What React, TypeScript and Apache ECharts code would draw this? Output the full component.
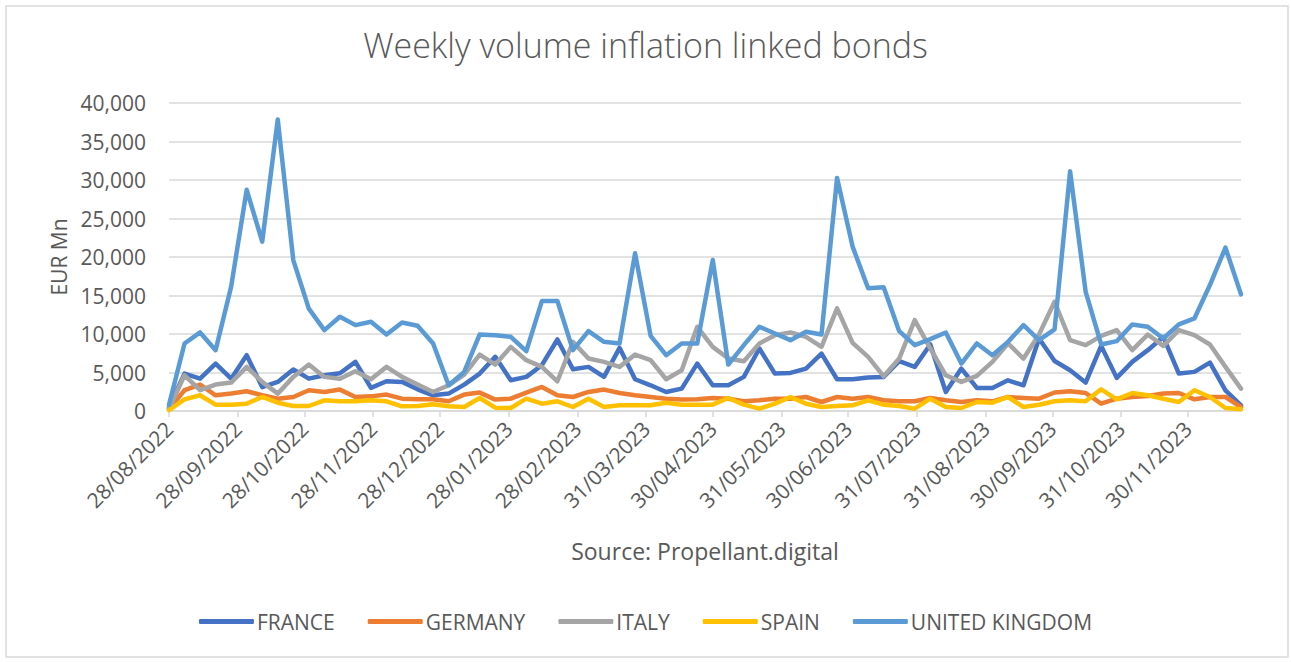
import React, { useEffect, useRef } from "react";
import * as echarts from "echarts";

const START_DATE = "2022-08-28";
const WEEK_COUNT = 70;

const tickLabels = [
  "28/08/2022", "28/09/2022", "28/10/2022", "28/11/2022", "28/12/2022",
  "28/01/2023", "28/02/2023", "31/03/2023", "30/04/2023", "31/05/2023",
  "30/06/2023", "31/07/2023", "31/08/2023", "30/09/2023", "31/10/2023",
  "30/11/2023",
];

const seriesNames = ["FRANCE", "GERMANY", "ITALY", "SPAIN", "UNITED KINGDOM"];
const seriesColors = ["#4472C4", "#ED7D31", "#A5A5A5", "#FFC000", "#5B9BD5"];

const france = [
  500, 4860, 4200, 6160, 4200, 7250, 3100, 3780, 5400, 4200,
  4640, 4900, 6380, 3000, 3860, 3780, 2820, 2040, 2260, 3430,
  4860, 7030, 3990, 4430, 5950, 9290, 5430, 5730, 4430, 8200,
  4120, 3340, 2470, 2910, 6160, 3340, 3340, 4430, 8120, 4860,
  4950, 5510, 7460, 4120, 4120, 4340, 4430, 6470, 5730, 8640,
  2470, 5510, 3000, 3000, 3990, 3340, 9420, 6500, 5290, 3690,
  8460, 4300, 6380, 7900, 9630, 4860, 5080, 6290, 2690, 740,
];
const germany = [
  300, 2700, 3430, 2040, 2260, 2560, 2040, 1600, 1820, 2700,
  2470, 2780, 1820, 1900, 2130, 1600, 1520, 1520, 1260, 2130,
  2390, 1480, 1600, 2390, 3120, 2040, 1820, 2470, 2780, 2340,
  2040, 1820, 1600, 1480, 1520, 1690, 1600, 1260, 1390, 1600,
  1600, 1820, 1170, 1820, 1600, 1820, 1390, 1260, 1260, 1690,
  1390, 1170, 1390, 1260, 1820, 1690, 1600, 2400, 2560, 2340,
  950, 1600, 1820, 1950, 2260, 2340, 1520, 1820, 1820, 520,
];
const italy = [
  300, 4640, 2700, 3430, 3690, 5730, 3780, 2260, 4430, 6030,
  4430, 4200, 5160, 4120, 5730, 4430, 3430, 2470, 3340, 4730,
  7330, 6030, 8330, 6600, 5730, 3860, 8980, 6810, 6380, 5730,
  7330, 6600, 4120, 5290, 10940, 8330, 6810, 6470, 8770, 9850,
  10200, 9630, 8330, 13320, 8850, 7030, 4500, 6810, 11800, 8120,
  4640, 3780, 4560, 6380, 8770, 6810, 9940, 14190, 9200, 8550,
  9760, 10500, 7900, 9940, 8460, 10500, 9850, 8640, 5730, 2910,
];
const spain = [
  100, 1500, 2040, 820, 820, 950, 1820, 1080, 650, 650,
  1390, 1260, 1260, 1390, 1260, 610, 650, 870, 610, 520,
  1690, 430, 390, 1600, 950, 1260, 520, 1600, 520, 740,
  740, 740, 1080, 820, 820, 820, 1690, 820, 300, 950,
  1820, 950, 520, 650, 740, 1390, 820, 650, 300, 1600,
  520, 390, 1170, 1080, 1820, 520, 820, 1260, 1390, 1260,
  2820, 1520, 2340, 2040, 1600, 1170, 2690, 1820, 390, 220,
];
const unitedKingdom = [
  800, 8770, 10200, 7900, 16150, 28730, 22000, 37850, 19600, 13300,
  10500, 12240, 11150, 11590, 9940, 11500, 11070, 8770, 3340, 5080,
  9940, 9850, 9630, 7770, 14280, 14280, 7900, 10370, 8980, 8770,
  20480, 9760, 7250, 8770, 8770, 19600, 6030, 8550, 10940, 10070,
  9200, 10290, 9940, 30250, 21350, 15930, 16060, 10370, 8550, 9330,
  10200, 6160, 8770, 7250, 8980, 11150, 9200, 10600, 31120, 15490,
  8640, 9070, 11240, 10940, 9420, 11240, 12020, 16360, 21220, 15150,
];

const seriesValues = [france, germany, italy, spain, unitedKingdom];

const DAY_MS = 86400000;
const startMs = Date.parse(START_DATE);
const weekDays = Array.from({ length: WEEK_COUNT }, (_, i) => i * 7);
const parseLabel = (s: string) => {
  const [d, m, y] = s.split("/").map(Number);
  return (Date.UTC(y, m - 1, d) - startMs) / DAY_MS;
};
const tickDays = tickLabels.map(parseLabel);
const labelByDay: Record<number, string> = {};
tickDays.forEach((d, i) => (labelByDay[d] = tickLabels[i]));

const FONT = "'Open Sans', 'Noto Sans', sans-serif";
const TEXT_COLOR = "#595959";

export default function App() {
  const ref = useRef<HTMLDivElement>(null);
  useEffect(() => {
    if (!ref.current) return;
    const chart = echarts.init(ref.current, undefined, { renderer: "svg" });
    chart.setOption({
      animation: false,
      backgroundColor: "#ffffff",
      title: {
        text: "Weekly volume inflation linked bonds",
        left: "center",
        top: 23,
        textStyle: { fontFamily: FONT, fontSize: 34, fontWeight: 300, color: TEXT_COLOR },
      },
      graphic: [
        {
          type: "rect",
          shape: { x: 6, y: 6, width: 1282, height: 651 },
          style: { fill: "none", stroke: "#d9d9d9", lineWidth: 1.5 },
          silent: true,
        },
      ],
      legend: {
        bottom: 25,
        left: "center",
        icon: "roundRect",
        itemWidth: 55,
        itemHeight: 5,
        itemGap: 33,
        textStyle: { fontFamily: FONT, fontSize: 21, color: TEXT_COLOR, padding: [0, 0, 0, -2] },
        data: seriesNames,
      },
      grid: { left: 169, right: 50, top: 103, bottom: 251, containLabel: false },
      xAxis: {
        type: "value",
        min: 0,
        max: weekDays[weekDays.length - 1],
        name: "Source: Propellant.digital",
        nameLocation: "middle",
        nameGap: 128,
        nameTextStyle: { fontFamily: FONT, fontSize: 23, color: TEXT_COLOR },
        axisLine: { show: true, lineStyle: { color: "#d9d9d9", width: 1.5 } },
        axisTick: { show: true, customValues: tickDays, length: 6, lineStyle: { color: "#d9d9d9", width: 1.5 } },
        axisLabel: {
          customValues: tickDays,
          rotate: 45,
          margin: 14,
          fontFamily: FONT,
          fontSize: 21,
          color: TEXT_COLOR,
          formatter: (v: number) => labelByDay[v] ?? "",
        },
        splitLine: { show: false },
      },
      yAxis: {
        type: "value",
        min: 0,
        max: 40000,
        interval: 5000,
        name: "EUR Mn",
        nameLocation: "middle",
        nameGap: 100,
        nameTextStyle: { fontFamily: FONT, fontSize: 21, color: TEXT_COLOR },
        axisLine: { show: false },
        axisTick: { show: false },
        axisLabel: {
          margin: 23,
          fontFamily: FONT,
          fontSize: 21,
          color: TEXT_COLOR,
          formatter: (v: number) => v.toLocaleString("en-US"),
        },
        splitLine: { lineStyle: { color: "#d9d9d9", width: 1.5 } },
      },
      series: seriesNames.map((name, s) => ({
        name,
        type: "line",
        symbol: "none",
        smooth: false,
        color: seriesColors[s],
        itemStyle: { color: seriesColors[s] },
        lineStyle: { width: 4.5, color: seriesColors[s], cap: "round", join: "round" },
        emphasis: { disabled: true },
        data: seriesValues[s].map((v, i) => [weekDays[i], v]),
      })),
    });
    return () => chart.dispose();
  }, []);
  return (
    <div
      ref={ref}
      style={{ position: "fixed", left: 0, top: 0, width: 1291, height: 662 }}
    />
  );
}
